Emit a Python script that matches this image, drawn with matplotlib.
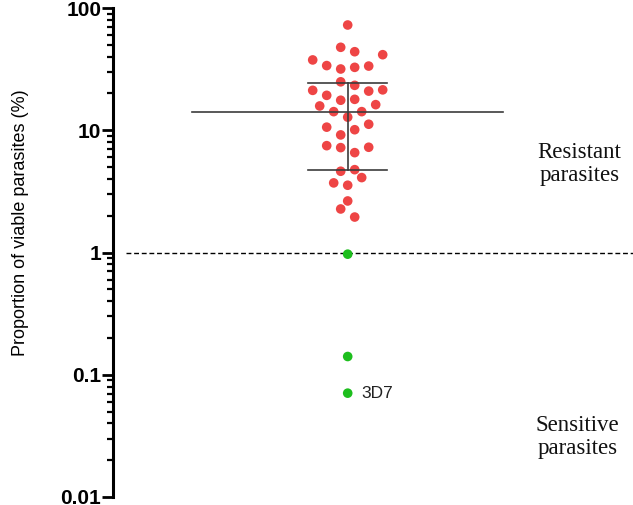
import matplotlib
matplotlib.use("Agg")
import matplotlib.pyplot as plt
import numpy as np
from matplotlib.ticker import LogLocator, FixedLocator, NullFormatter

# ---- data ----
resistant_values = [72.6, 47.7, 43.9, 41.5, 37.6, 33.8, 31.7, 32.7, 33.5,
                    24.9, 23.3, 21.2, 19.3, 20.9, 21.4, 17.6, 17.9, 15.8,
                    16.2, 14.2, 14.2, 12.8, 10.6, 10.1, 11.2, 9.16, 7.48,
                    7.21, 7.26, 6.56, 4.62, 4.76, 3.71, 3.55, 4.10, 2.64,
                    2.27, 1.95]
resistant_columns = [0, -1, 1, 5, -5, -3, -1, 1, 3,
                     -1, 1, -5, -3, 3, 5, -1, 1, -4,
                     4, -2, 2, 0, -3, 1, 3, -1, -3,
                     -1, 3, 1, -1, 1, -2, 0, 2, 0,
                     -1, 1]
sensitive_values = [0.969, 0.141, 0.0707]
sensitive_columns = [0, 0, 0]
sensitive_labels = ["", "", "3D7"]
mean_value = 14.2
sd_low, sd_high = 4.73, 24.4
threshold = 1.0
ytick_values = [0.01, 0.1, 1, 10, 100]
ytick_labels = ["0.01", "0.1", "1", "10", "100"]
ylabel = "Proportion of viable parasites (%)"
group_labels = ["Resistant\nparasites", "Sensitive\nparasites"]

# ---- figure ----
W, H = 633, 505
fig = plt.figure(figsize=(W / 100, H / 100), dpi=100)
left_px, right_px, top_px, bottom_px = 113, 633, 8, 497
ax = fig.add_axes([left_px / W, (H - bottom_px) / H,
                   (right_px - left_px) / W, (bottom_px - top_px) / H])

center_px = 347.7
unit = 100.0  # px per x unit
ax.set_xlim(-(center_px - left_px) / unit, (right_px - center_px) / unit)
ax.set_yscale("log")
ax.set_ylim(0.01, 100)

step = 0.07
red = "#EE4545"
green = "#1DBE1D"

ax.scatter(np.array(resistant_columns) * step, resistant_values, s=48,
           color=red, edgecolors="none", zorder=3, clip_on=False)
ax.scatter(np.array(sensitive_columns) * step, sensitive_values, s=48,
           color=green, edgecolors="none", zorder=3, clip_on=False)
for v, c, lab in zip(sensitive_values, sensitive_columns, sensitive_labels):
    if lab:
        ax.annotate(lab, (c * step, v), xytext=(10, 0), textcoords="offset points",
                    va="center", ha="left", fontsize=12.5,
                    family="Liberation Sans", color="#222222")

# mean and SD
line_col = "#3c3c3c"
ax.plot([-1.555, 1.553], [mean_value, mean_value], color=line_col, lw=1.2, zorder=4)
ax.plot([-0.392, 0.39], [sd_high, sd_high], color=line_col, lw=1.2, zorder=4)
ax.plot([-0.392, 0.39], [sd_low, sd_low], color=line_col, lw=1.2, zorder=4)
ax.plot([0, 0], [sd_low, sd_high], color=line_col, lw=1.2, zorder=4)

# threshold
ax.plot([-2.217, 2.853], [threshold, threshold], color="black", lw=1.0,
        ls=(0, (3.5, 2)), zorder=2)

# group labels
ax.text(2.32, 5.3, group_labels[0], ha="center", va="center", fontsize=16.5,
        family="Liberation Serif", linespacing=1.15, color="#111111")
ax.text(2.30, 0.031, group_labels[1], ha="center", va="center", fontsize=16.5,
        family="Liberation Serif", linespacing=1.15, color="#111111")

# axes styling
for s in ["top", "right", "bottom"]:
    ax.spines[s].set_visible(False)
ax.spines["left"].set_linewidth(2.2)
ax.set_xticks([])
ax.yaxis.set_major_locator(FixedLocator(ytick_values))
ax.set_yticklabels(ytick_labels, fontsize=15, fontweight="bold",
                   family="Liberation Sans")
ax.yaxis.set_minor_locator(LogLocator(base=10, subs=np.arange(2, 10)))
ax.yaxis.set_minor_formatter(NullFormatter())
ax.tick_params(axis="y", which="major", length=8, width=2.0, pad=0.5)
ax.tick_params(axis="y", which="minor", length=4, width=1.6)

fig.text(21 / W, 1 - 223 / H, ylabel, rotation=90, ha="center", va="center",
         fontsize=13, family="Liberation Sans")

fig.savefig("out.png", dpi=100)
